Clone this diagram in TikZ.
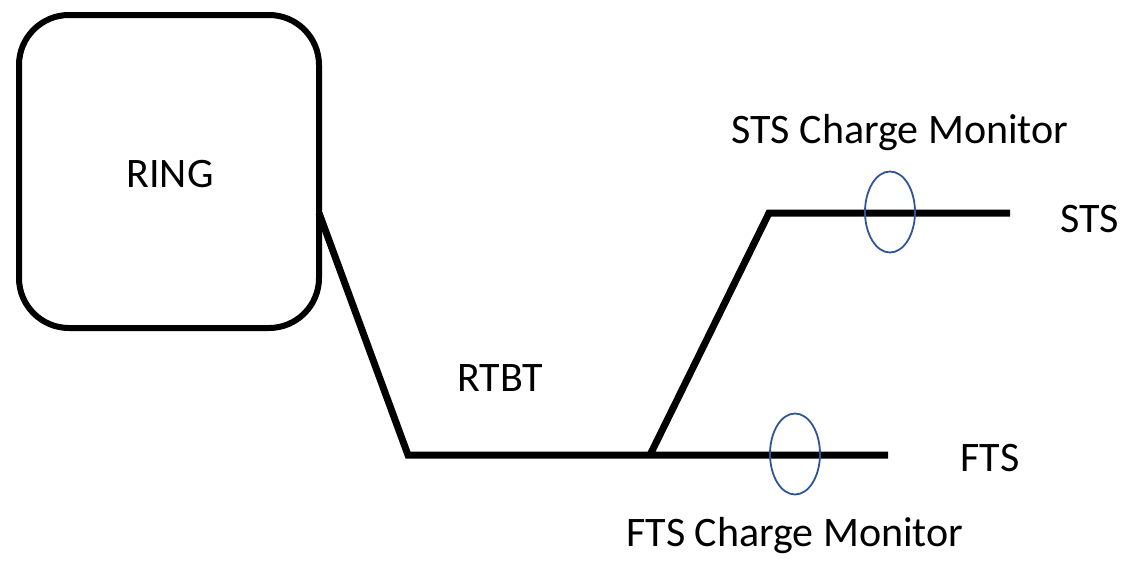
\documentclass[tikz,border=0pt]{standalone}
\usepackage{fontspec}
\setmainfont{Carlito}
\usetikzlibrary{shapes.geometric}
\definecolor{monblue}{RGB}{47,85,151}
\begin{document}
\begin{tikzpicture}[x=1pt,y=-1pt,
  beam/.style={line width=7pt,line join=miter},
  lbl/.style={font=\fontsize{42}{50}\selectfont,inner sep=0pt,anchor=center},
  monitor/.style={draw=monblue,line width=1.8pt,ellipse,minimum width=50pt,minimum height=81pt,inner sep=0pt}]
\useasboundingbox (0,0) rectangle (1124,562);
\node[draw,line width=6pt,rounded corners=50pt,minimum width=300pt,minimum height=313pt,inner sep=0pt] (ring) at (169,171.5) {};
\node[lbl] (ringt) at (170,174) {RING};
\coordinate (rexit) at (319,213);
\coordinate (bend) at (408,455);
\coordinate (split) at (650,455);
\coordinate (fend) at (888,455);
\coordinate (sbend) at (769,213);
\coordinate (send) at (1010,213);
\draw[beam] (rexit) -- (bend) -- (fend);
\draw[beam] (split) -- (sbend) -- (send);
\node[monitor] (stsm) at (890,212) {};
\node[monitor] (ftsm) at (795,454) {};
\node[lbl] (rtbt) at (500,378) {RTBT};
\node[lbl] (stsml) at (900,133) {STS Charge Monitor};
\node[lbl] (ftsml) at (795,536) {FTS Charge Monitor};
\node[lbl] (sts) at (1090,219) {STS};
\node[lbl] (fts) at (990,458) {FTS};
\end{tikzpicture}
\end{document}
